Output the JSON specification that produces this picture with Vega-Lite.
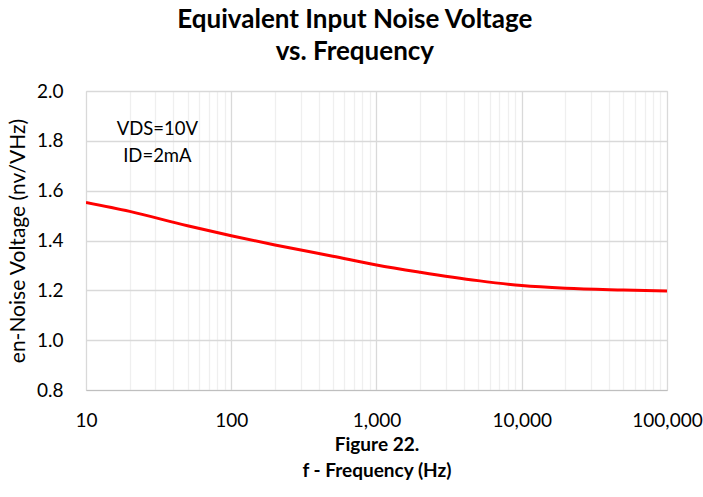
{
  "$schema": "https://vega.github.io/schema/vega-lite/v6.json",
  "autosize": "none",
  "width": 581,
  "height": 299,
  "padding": {"left": 86, "top": 91, "right": 36, "bottom": 107},
  "background": "white",
  "config": {
    "font": "Lato",
    "view": {"stroke": "#d9d9d9", "strokeWidth": 1}
  },
  "title": {
    "text": ["Equivalent Input Noise Voltage", "vs. Frequency"],
    "anchor": "middle",
    "frame": "bounds",
    "fontSize": 26,
    "fontWeight": "bold",
    "font": "Lato",
    "color": "#000000",
    "lineHeight": 32,
    "offset": 17
  },
  "datasets": {
    "curve": [
      {"f": 10, "en": 1.553},
      {"f": 20, "en": 1.517},
      {"f": 50, "en": 1.459},
      {"f": 100, "en": 1.419},
      {"f": 200, "en": 1.382},
      {"f": 500, "en": 1.337},
      {"f": 1000, "en": 1.302},
      {"f": 2000, "en": 1.273},
      {"f": 5000, "en": 1.239},
      {"f": 10000, "en": 1.219},
      {"f": 20000, "en": 1.208},
      {"f": 50000, "en": 1.201},
      {"f": 100000, "en": 1.197}
    ],
    "notes": [
      {"f": 31, "en": 1.848, "label": "VDS=10V"},
      {"f": 31, "en": 1.740, "label": "ID=2mA"}
    ]
  },
  "layer": [
    {
      "data": {"name": "curve"},
      "mark": {"type": "line", "color": "#ff0000", "strokeWidth": 3, "interpolate": "monotone", "clip": true},
      "encoding": {
        "x": {
          "field": "f",
          "type": "quantitative",
          "scale": {"type": "log", "domain": [10, 100000], "nice": false},
          "axis": {
            "title": ["Figure 22.", "f - Frequency (Hz)"],
            "titleFontSize": 19,
            "titleFontWeight": "bold",
            "titleColor": "#000000",
            "titleLineHeight": 26,
            "titlePadding": 5,
            "values": [10,20,30,40,50,60,70,80,90,100,200,300,400,500,600,700,800,900,1000,2000,3000,4000,5000,6000,7000,8000,9000,10000,20000,30000,40000,50000,60000,70000,80000,90000,100000],
            "labelExpr": "indexof([10,100,1000,10000,100000], datum.value) >= 0 ? format(datum.value, ',') : ''",
            "labelOverlap": false,
            "labelFlush": false,
            "labelFontSize": 19,
            "labelColor": "#000000",
            "labelPadding": 21,
            "ticks": false,
            "domainColor": "#bfbfbf",
            "domainWidth": 1,
            "grid": true,
            "gridColor": {"condition": {"test": "indexof([10,100,1000,10000,100000], datum.value) >= 0", "value": "#d9d9d9"}, "value": "#efefef"},
            "gridWidth": 1.3
          }
        },
        "y": {
          "field": "en",
          "type": "quantitative",
          "scale": {"domain": [0.8, 2.0], "nice": false, "zero": false},
          "axis": {
            "title": "en-Noise Voltage (nv/VHz)",
            "titleFontSize": 21,
            "titleFontWeight": "normal",
            "titleColor": "#000000",
            "titlePadding": 8,
            "values": [0.8, 1.0, 1.2, 1.4, 1.6, 1.8, 2.0],
            "format": ".1f",
            "labelFontSize": 19,
            "labelColor": "#000000",
            "labelPadding": 23,
            "ticks": false,
            "domain": false,
            "grid": true,
            "gridColor": "#d9d9d9",
            "gridWidth": 1.3
          }
        }
      }
    },
    {
      "data": {"name": "notes"},
      "mark": {"type": "text", "fontSize": 18.5, "color": "#000000", "align": "center", "baseline": "middle"},
      "encoding": {
        "x": {"field": "f", "type": "quantitative"},
        "y": {"field": "en", "type": "quantitative"},
        "text": {"field": "label"}
      }
    }
  ]
}
